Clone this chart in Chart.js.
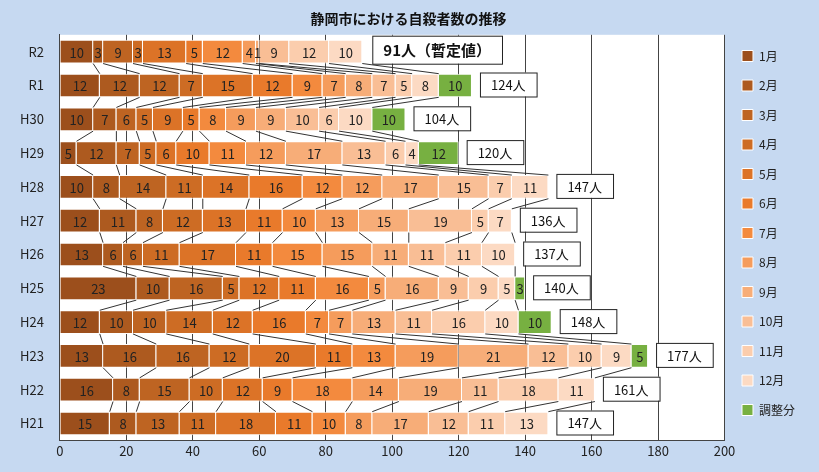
<!DOCTYPE html>
<html>
<head>
<meta charset="utf-8">
<script src="https://cdn.jsdelivr.net/npm/chart.js@4"></script>
<style>
  body { margin: 0; background: #c6d9f1; }
  #wrap { width: 819px; height: 472px; position: relative; }
</style>
</head>
<body>
<div id="wrap"><canvas id="chart"></canvas></div>
<script>
// 年度
const years = ['R2', 'R1', 'H30', 'H29', 'H28', 'H27', 'H26', 'H25', 'H24', 'H23', 'H22', 'H21'];
const seriesNames = ['1月', '2月', '3月', '4月', '5月', '6月', '7月', '8月', '9月', '10月', '11月', '12月', '調整分'];

// 月別（行 = 年度, 列 = 1月..12月, 調整分）
const m1  = [10, 12, 10, 5, 10, 12, 13, 23, 12, 13, 16, 15];
const m2  = [3, 12, 7, 12, 8, 11, 6, 10, 10, 16, 8, 8];
const m3  = [9, 12, 6, 7, 14, 8, 6, 16, 10, 16, 15, 13];
const m4  = [3, 7, 5, 5, 11, 12, 11, 5, 14, 12, 10, 11];
const m5  = [13, 15, 9, 6, 14, 13, 17, 12, 12, 20, 12, 18];
const m6  = [5, 12, 5, 10, 16, 11, 11, 11, 16, 11, 9, 11];
const m7  = [12, 9, 8, 11, 12, 10, 15, 16, 7, 13, 18, 10];
const m8  = [4, 7, 9, 12, 12, 13, 15, 5, 7, 19, 14, 8];
const m9  = [1, 8, 9, 17, 17, 15, 11, 16, 13, 21, 19, 17];
const m10 = [9, 7, 10, 13, 15, 19, 11, 9, 11, 12, 11, 12];
const m11 = [12, 5, 6, 6, 7, 5, 11, 9, 16, 10, 18, 11];
const m12 = [10, 8, 10, 4, 11, 7, 10, 5, 10, 9, 11, 13];
const adj = [0, 10, 10, 12, 0, 0, 0, 3, 10, 5, 0, 0];
const totalLabels = ['91人（暫定値）', '124人', '104人', '120人', '147人', '136人', '137人', '140人', '148人', '177人', '161人', '147人'];

const series = [m1, m2, m3, m4, m5, m6, m7, m8, m9, m10, m11, m12, adj];
const colors = ['#9c4f1c', '#ad5a1f', '#be6422', '#cd6c24', '#dc7327', '#e97a2b', '#f38a3e',
  '#f59c5c', '#f7ad78', '#f9be95', '#fbcdad', '#fcdac3', '#77b041'];

const font = "'Noto Sans CJK JP', 'Noto Sans', sans-serif";

const segmentPlugin = {
  id: 'segments',
  afterDatasetsDraw(chart) {
    const ctx = chart.ctx;
    const x = chart.scales.x;
    ctx.save();
    // connector lines between neighbouring bars
    ctx.strokeStyle = '#333';
    ctx.lineWidth = 1;
    for (let i = 0; i < years.length - 1; i++) {
      const barA = chart.getDatasetMeta(0).data[i];
      const barB = chart.getDatasetMeta(0).data[i + 1];
      const yA = barA.y + barA.height / 2;
      const yB = barB.y - barB.height / 2;
      let cA = 0, cB = 0;
      for (let s = 0; s < series.length - 1; s++) {
        cA += series[s][i];
        cB += series[s][i + 1];
        ctx.beginPath();
        ctx.moveTo(x.getPixelForValue(cA), yA);
        ctx.lineTo(x.getPixelForValue(cB), yB);
        ctx.stroke();
      }
    }
    // value labels
    ctx.fillStyle = '#222';
    ctx.font = '13px ' + font;
    ctx.textAlign = 'center';
    ctx.textBaseline = 'middle';
    chart.data.datasets.forEach((ds, s) => {
      chart.getDatasetMeta(s).data.forEach((bar, i) => {
        const v = ds.data[i];
        if (!v) return;
        ctx.fillText(v, (bar.x + bar.base) / 2, bar.y + 1);
      });
    });
    // total boxes
    years.forEach((y, i) => {
      let total = 0;
      series.forEach(arr => total += arr[i]);
      const bar = chart.getDatasetMeta(0).data[i];
      const first = i === 0;
      ctx.font = (first ? 'bold 15px ' : '13px ') + font;
      const w = ctx.measureText(totalLabels[i]).width + 22;
      const h = first ? 28 : 24;
      const left = x.getPixelForValue(total) + (first ? 10 : 8);
      const top = bar.y - (first ? 16 : 13);
      ctx.fillStyle = '#fff';
      ctx.fillRect(left, top, w, h);
      ctx.strokeStyle = '#222';
      ctx.strokeRect(left + 0.5, top + 0.5, w, h);
      ctx.fillStyle = '#111';
      ctx.fillText(totalLabels[i], left + w / 2, top + h / 2 + 1);
    });
    ctx.restore();
  }
};

const plotBg = {
  id: 'plotBg',
  beforeDraw(chart) {
    const a = chart.chartArea;
    chart.ctx.save();
    chart.ctx.fillStyle = '#fff';
    chart.ctx.fillRect(a.left, a.top, a.right - a.left, a.bottom - a.top);
    chart.ctx.restore();
  }
};

new Chart(document.getElementById('chart'), {
  type: 'bar',
  data: {
    labels: years,
    datasets: series.map((arr, s) => ({
      label: seriesNames[s],
      data: arr,
      backgroundColor: colors[s],
      borderColor: '#fff',
      borderWidth: 1,
      categoryPercentage: 0.7,
      barPercentage: 1
    }))
  },
  options: {
    indexAxis: 'y',
    responsive: true,
    maintainAspectRatio: false,
    animation: false,
    layout: { padding: { left: 12, right: 14, top: 4, bottom: 10 } },
    plugins: {
      title: {
        display: true,
        text: '静岡市における自殺者数の推移',
        color: '#111',
        font: { family: font, size: 14, weight: 'bold' },
        padding: { top: 6, bottom: 8 }
      },
      legend: {
        position: 'right',
        labels: {
          color: '#222',
          font: { family: font, size: 12 },
          boxWidth: 11,
          boxHeight: 11,
          padding: 17.5
        }
      },
      tooltip: { enabled: false }
    },
    scales: {
      x: {
        stacked: true,
        min: 0,
        max: 200,
        ticks: { stepSize: 20, color: '#222', font: { family: font, size: 13 } },
        grid: { color: '#444', drawTicks: false },
        border: { color: '#444' }
      },
      y: {
        stacked: true,
        ticks: { color: '#222', font: { family: font, size: 13 }, padding: 8 },
        grid: { display: false },
        border: { color: '#444' }
      }
    }
  },
  plugins: [plotBg, segmentPlugin]
});
</script>
</body>
</html>
